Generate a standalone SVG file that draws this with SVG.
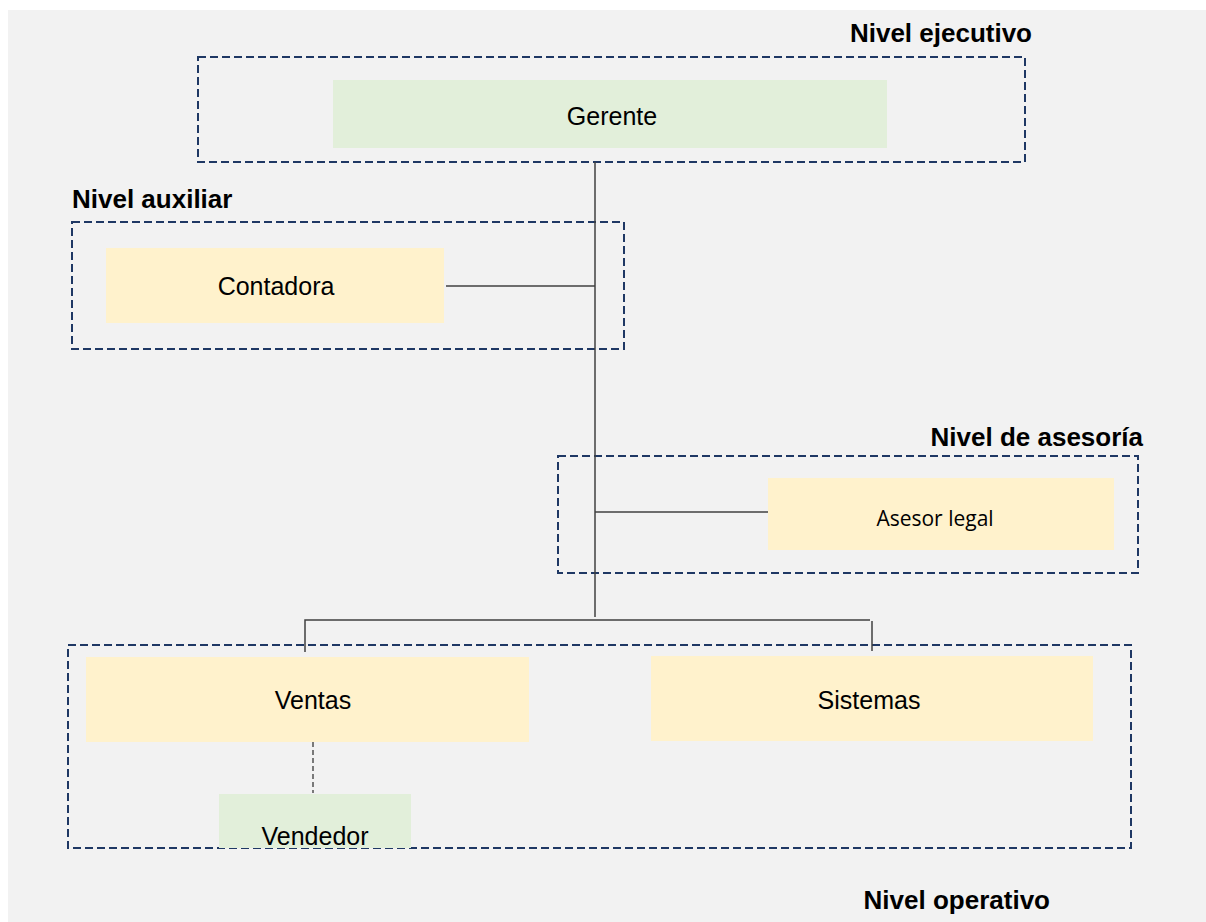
<svg xmlns="http://www.w3.org/2000/svg" width="1206" height="922" viewBox="0 0 1206 922">
  <style>
    .level { fill: none; stroke: #1f3864; stroke-width: 2; stroke-dasharray: 8 4; }
    .green { fill: #e2efda; }
    .yellow { fill: #fff2cc; }
    .label { font-family: "Liberation Sans", Arial, sans-serif; font-size: 25px; fill: #000; text-anchor: middle; }
    .title { font-family: "Liberation Sans", Arial, sans-serif; font-size: 26px; font-weight: bold; fill: #000; }
    .link { stroke: #404040; stroke-width: 1.5; fill: none; }
    .dotted { stroke: #000; stroke-width: 1; stroke-dasharray: 5 3; fill: none; }
  </style>

  <rect x="0" y="0" width="1206" height="922" fill="#ffffff"/>
  <rect x="8" y="10" width="1198" height="912" fill="#f2f2f2"/>

  <!-- level frames and captions -->
  <g id="level-ejecutivo">
    <rect class="level" x="198" y="57" width="827" height="105"/>
    <text class="title" x="1032" y="42" text-anchor="end">Nivel ejecutivo</text>
  </g>
  <g id="level-auxiliar">
    <rect class="level" x="72" y="222" width="552" height="127"/>
    <text class="title" x="72" y="208">Nivel auxiliar</text>
  </g>
  <g id="level-asesoria">
    <rect class="level" x="558" y="456" width="580" height="117"/>
    <text class="title" x="1143" y="446" text-anchor="end">Nivel de asesoría</text>
  </g>
  <g id="level-operativo">
    <rect class="level" x="68" y="645" width="1063" height="203"/>
    <text class="title" x="1050" y="909" text-anchor="end">Nivel operativo</text>
  </g>

  <!-- connectors -->
  <g id="connectors">
    <line class="link" x1="595" y1="162" x2="595" y2="617"/>
    <line class="link" x1="446" y1="286" x2="595" y2="286"/>
    <line class="link" x1="595" y1="512" x2="768" y2="512"/>
    <polyline class="link" points="305,652 305,620 870,620"/>
    <line class="link" x1="872" y1="621" x2="872" y2="651" stroke="#000"/>
    <line class="dotted" x1="313" y1="742" x2="313" y2="793"/>
  </g>

  <g id="gerente">
    <rect class="green" x="333" y="80" width="554" height="68"/>
    <text class="label" x="612" y="125">Gerente</text>
  </g>
  <g id="contadora">
    <rect class="yellow" x="106" y="248" width="338" height="75"/>
    <text class="label" x="276" y="295">Contadora</text>
  </g>
  <g id="asesor-legal">
    <rect class="yellow" x="768" y="478" width="346" height="72"/>
    <text class="label" x="935" y="526" style="font-family: 'Open Sans', 'Noto Sans', sans-serif; font-size: 21px;">Asesor legal</text>
  </g>
  <g id="ventas">
    <rect class="yellow" x="86" y="657" width="443" height="85"/>
    <text class="label" x="313" y="709">Ventas</text>
  </g>
  <g id="sistemas">
    <rect class="yellow" x="651" y="656" width="442" height="85"/>
    <text class="label" x="869" y="709">Sistemas</text>
  </g>
  <g id="vendedor">
    <rect class="green" x="219" y="794" width="192" height="54"/>
    <text class="label" x="315" y="845">Vendedor</text>
  </g>
</svg>
